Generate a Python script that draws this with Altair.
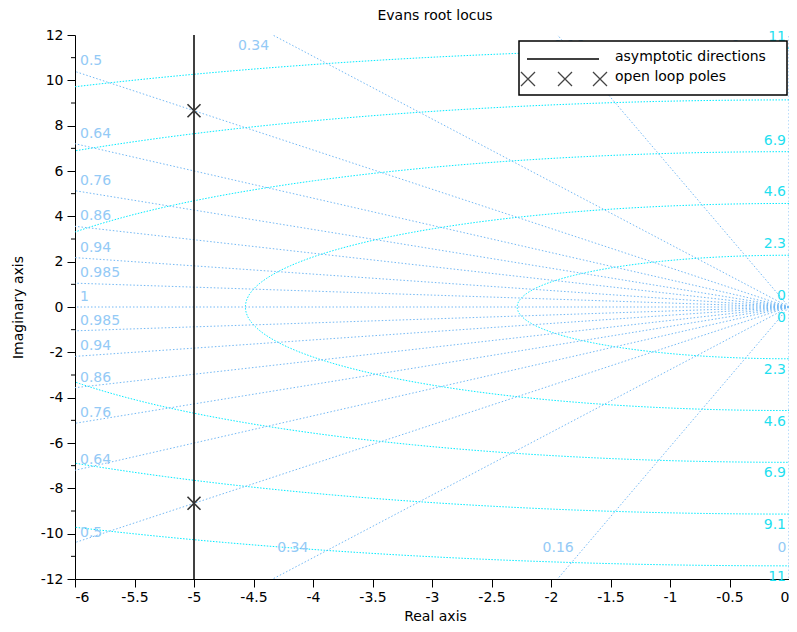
import altair as alt
import pandas as pd
import numpy as np

# ---------------- data ----------------
zeta = [0, 0.16, 0.34, 0.5, 0.64, 0.76, 0.86, 0.94, 0.985, 1]
zeta_labels = ["0", "0.16", "0.34", "0.5", "0.64", "0.76", "0.86", "0.94", "0.985", "1"]
wn = [0, 2.284, 4.568, 6.852, 9.136, 11.42]
wn_labels = ["0", "2.3", "4.6", "6.9", "9.1", "11"]
pole_re = [-5.0, -5.0]
pole_im = [8.66, -8.66]
asym_x = [-5.0]
# damping labels of rays leaving through the top / bottom edge
edge_labels = ["0.34", "0.16", "0"]
edge_top_x = [-4.5, -1.85, -0.45]
edge_bot_x = [-4.17, -1.94, -0.06]
edge_top_y = 11.5
edge_bot_y = -10.63
x_ticks = [-6, -5.5, -5, -4.5, -4, -3.5, -3, -2.5, -2, -1.5, -1, -0.5, 0]
y_ticks = [-12, -10, -8, -6, -4, -2, 0, 2, 4, 6, 8, 10, 12]
y_minor = [-11, -9, -7, -5, -3, -1, 1, 3, 5, 7, 9, 11]

XMIN, XMAX, YMIN, YMAX = -6, 0, -12, 12
W, H = 714, 544
FONT = "DejaVu Sans"
RAY_C = "#74b9f5"
RAY_TXT = "#94caf6"
CIR_C = "#00ecff"
CIR_TXT = "#1fe0f0"

# ---------------- build tables ----------------
rays = []
k = 0
for z in zeta:
    for s in (1, -1):
        if z == 1 and s == -1:
            continue
        R = 40.0
        rays.append({"id": k, "o": 0, "x": 0.0, "y": 0.0})
        rays.append({"id": k, "o": 1, "x": -R * z, "y": s * R * np.sqrt(1 - z * z)})
        k += 1
rays = pd.DataFrame(rays)

circ = []
th = np.linspace(np.pi / 2, 3 * np.pi / 2, 361)
for i, w in enumerate(wn):
    if w == 0:
        continue
    for j, t in enumerate(th):
        circ.append({"id": i, "o": j, "x": w * np.cos(t), "y": w * np.sin(t)})
circ = pd.DataFrame(circ)

left_lab = []
for z, lab in zip(zeta, zeta_labels):
    if z >= 0.5:
        yy = -XMIN * np.sqrt(1 - z * z) / z
        for s in (1, -1):
            if z == 1 and s == -1:
                continue
            left_lab.append({"x": XMIN, "y": s * yy, "t": lab})
left_lab = pd.DataFrame(left_lab)

edge_lab = pd.DataFrame(
    [{"x": a, "y": edge_top_y, "t": l} for a, l in zip(edge_top_x, edge_labels)]
    + [{"x": a, "y": edge_bot_y, "t": l} for a, l in zip(edge_bot_x, edge_labels)]
)

wn_up = pd.DataFrame({"x": [0.0] * len(wn), "y": wn, "t": wn_labels})
wn_dn = pd.DataFrame({"x": [0.0] * len(wn), "y": [-w for w in wn], "t": wn_labels})
poles = pd.DataFrame({"x": pole_re, "y": pole_im})
asym = pd.DataFrame({"x": asym_x})
minor = pd.DataFrame({"y": y_minor})

# ---------------- shared encodings ----------------
xs = alt.Scale(domain=[XMIN, XMAX], nice=False, zero=False)
ys = alt.Scale(domain=[YMIN, YMAX], nice=False, zero=False)
X = alt.X("x:Q", scale=xs, axis=alt.Axis(
    values=x_ticks, tickSize=8, labelPadding=3, labelExpr="datum.value + ''",
    title="Real axis", titleX=360, titleY=37, titleBaseline="middle",
    titleAlign="center", grid=False))
Y = alt.Y("y:Q", scale=ys, axis=alt.Axis(
    values=y_ticks, tickSize=8, labelPadding=4, labelExpr="datum.value + ''",
    title="Imaginary axis", titleX=-57, titleY=272, titleAngle=-90,
    titleBaseline="middle", titleAlign="center", grid=False))

circ_layer = alt.Chart(circ).mark_line(
    clip=True, color=CIR_C, strokeWidth=1, strokeDash=[1.5, 1.5]
).encode(x=X, y=Y, detail="id:N", order="o:Q")

ray_layer = alt.Chart(rays).mark_line(
    clip=True, color=RAY_C, strokeWidth=1, strokeDash=[1.5, 2]
).encode(x=X, y=Y, detail="id:N", order="o:Q")

left_txt = alt.Chart(left_lab).mark_text(
    align="left", baseline="middle", dx=5, dy=-10, font=FONT, fontSize=14, color=RAY_TXT
).encode(x=X, y=Y, text="t:N")

edge_txt = alt.Chart(edge_lab).mark_text(
    align="center", baseline="middle", font=FONT, fontSize=14, color=RAY_TXT
).encode(x=X, y=Y, text="t:N")

wn_up_txt = alt.Chart(wn_up).mark_text(
    align="right", baseline="middle", dx=-3, dy=-11, font=FONT, fontSize=14, color=CIR_TXT
).encode(x=X, y=Y, text="t:N")

wn_dn_txt = alt.Chart(wn_dn).mark_text(
    align="right", baseline="middle", dx=-3, dy=11, font=FONT, fontSize=14, color=CIR_TXT
).encode(x=X, y=Y, text="t:N")

minor_ticks = alt.Chart(minor).mark_rule(color="black", strokeWidth=1, clip=False).encode(
    y=Y, x=alt.value(-4), x2=alt.value(0))

asym_layer = alt.Chart(asym).mark_rule(color="black", strokeWidth=1.5).encode(x=X)

XPATH = "M-1,-1L1,1M-1,1L1,-1"
pole_layer = alt.Chart(poles).mark_point(
    shape=XPATH, size=169, filled=False, color="#333333", strokeWidth=1.6, opacity=1
).encode(x=X, y=Y)

one = alt.Data(values=[{}])
title_txt = alt.Chart(one).mark_text(
    text="Evans root locus", align="center", baseline="middle", font=FONT, fontSize=14,
    color="black", clip=False).encode(x=alt.value(360), y=alt.value(-19))
leg_box = alt.Chart(one).mark_rect(fill="white", stroke="black", strokeWidth=1.5).encode(
    x=alt.value(444), x2=alt.value(712), y=alt.value(6), y2=alt.value(60))
leg_line = alt.Chart(one).mark_rule(color="black", strokeWidth=1.5).encode(
    x=alt.value(452), x2=alt.value(524), y=alt.value(24))
leg_t1 = alt.Chart(one).mark_text(
    text="asymptotic directions", align="left", baseline="middle", font=FONT, fontSize=14,
    color="black").encode(x=alt.value(540), y=alt.value(22))
leg_t2 = alt.Chart(one).mark_text(
    text="open loop poles", align="left", baseline="middle", font=FONT, fontSize=14,
    color="black").encode(x=alt.value(540), y=alt.value(42))
leg_x = [
    alt.Chart(one).mark_point(shape=XPATH, size=196, filled=False, color="#444444",
                              strokeWidth=1.3, opacity=1).encode(x=alt.value(px), y=alt.value(44))
    for px in (453, 490, 525)
]

chart = alt.layer(
    circ_layer, ray_layer, left_txt, edge_txt, wn_up_txt, wn_dn_txt,
    minor_ticks, asym_layer, pole_layer, leg_box, leg_line, leg_t1, leg_t2, *leg_x,
    title_txt
).properties(
    width=W, height=H,
    autosize=alt.AutoSizeParams(type="none"),
    padding={"left": 67, "top": 27, "right": 0, "bottom": 45},
).configure_view(stroke=None).configure_axis(
    domainColor="black", tickColor="black", labelColor="black", titleColor="black",
    labelFont=FONT, labelFontSize=14, titleFont=FONT, titleFontSize=14,
    titleFontWeight="normal", domainWidth=1, tickWidth=1
)

chart.save("out.html", embed_options={"renderer": "svg", "actions": False})
